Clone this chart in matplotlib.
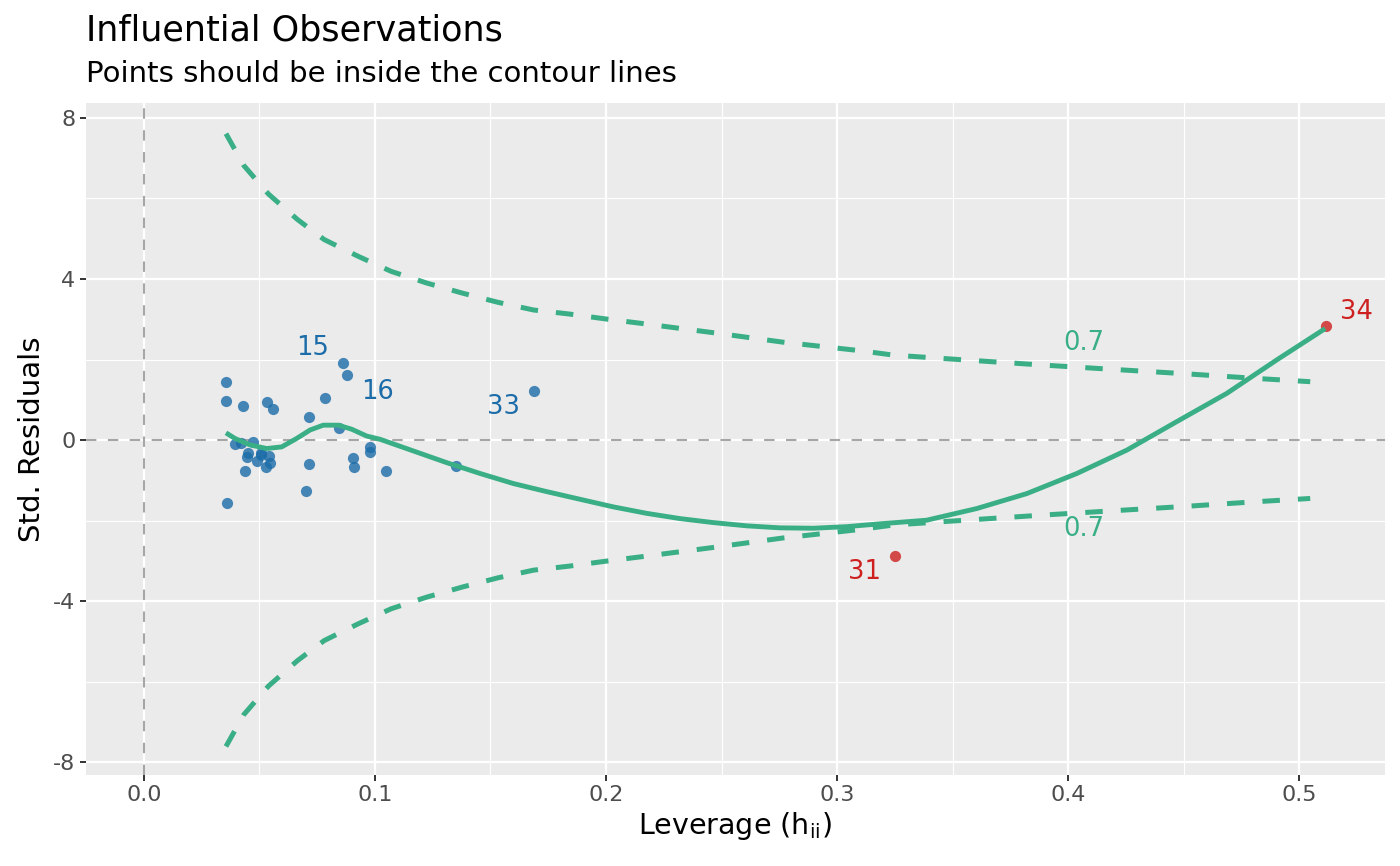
import numpy as np
import matplotlib
matplotlib.use("Agg")
from matplotlib import pyplot as plt

# observations (leverage, std. residual)
lev_ok = [0.0355, 0.0356, 0.043, 0.0532, 0.056, 0.0785, 0.0863, 0.0879, 0.0714, 0.0844,
          0.1688, 0.0393, 0.042, 0.0473, 0.0449, 0.0444, 0.0505, 0.0506, 0.0543, 0.049,
          0.0527, 0.0547, 0.0439, 0.0358, 0.0714, 0.070, 0.0906, 0.091, 0.0977, 0.0977,
          0.1049, 0.135]
res_ok = [1.43, 0.97, 0.84, 0.94, 0.78, 1.04, 1.92, 1.61, 0.58, 0.31,
          1.23, -0.10, -0.07, -0.06, -0.31, -0.42, -0.31, -0.36, -0.40, -0.52,
          -0.66, -0.58, -0.76, -1.57, -0.60, -1.27, -0.44, -0.68, -0.17, -0.29,
          -0.78, -0.65]
lev_bad = [0.3250, 0.5115]
res_bad = [-2.87, 2.83]

# labelled observations
lab_ok = ["15", "16", "33"]
lab_ok_x = [0.073, 0.1012, 0.1555]
lab_ok_y = [2.28, 1.19, 0.81]
lab_bad = ["31", "34"]
lab_bad_x = [0.3119, 0.525]
lab_bad_y = [-3.27, 3.19]

# loess smooth
smooth_x = [0.0355, 0.0394, 0.0459, 0.0531, 0.0596, 0.0661, 0.0719, 0.0776, 0.0841, 0.0899,
            0.0964, 0.1022, 0.1166, 0.131, 0.1455, 0.1599, 0.1743, 0.1887, 0.2032, 0.2176,
            0.232, 0.2465, 0.2609, 0.2753, 0.2897, 0.3042, 0.3186, 0.3388, 0.3605, 0.3821,
            0.4038, 0.4254, 0.4471, 0.4687, 0.4903, 0.5113]
smooth_y = [0.18, 0.04, -0.12, -0.21, -0.17, 0.04, 0.25, 0.37, 0.37, 0.27,
            0.10, 0.02, -0.27, -0.56, -0.83, -1.08, -1.28, -1.47, -1.66, -1.82,
            -1.95, -2.05, -2.13, -2.18, -2.19, -2.15, -2.08, -1.99, -1.70, -1.33,
            -0.83, -0.25, 0.46, 1.16, 1.99, 2.77]

# Cook's distance contour (0.7)
cook_x = [0.0355, 0.0432, 0.0539, 0.0664, 0.078, 0.0925, 0.107, 0.1224, 0.1378, 0.1533,
          0.1687, 0.1842, 0.1996, 0.215, 0.246, 0.2768, 0.31, 0.3244, 0.3554, 0.3872,
          0.4182, 0.4499, 0.4817, 0.5048]
cook_up = [7.61, 6.82, 6.11, 5.48, 4.98, 4.57, 4.19, 3.90, 3.65, 3.42,
           3.23, 3.13, 3.01, 2.90, 2.67, 2.43, 2.22, 2.11, 1.99, 1.87,
           1.76, 1.65, 1.53, 1.45]
cook_lo = [-7.61, -6.82, -6.11, -5.48, -4.98, -4.57, -4.19, -3.90, -3.65, -3.42,
           -3.23, -3.13, -3.01, -2.90, -2.67, -2.43, -2.22, -2.11, -1.99, -1.87,
           -1.76, -1.65, -1.53, -1.45]
cook_label = "0.7"
cook_label_x = 0.407
cook_label_y = [2.40, -2.22]

x_ticks = [0.0, 0.1, 0.2, 0.3, 0.4, 0.5]
y_ticks = [-8, -4, 0, 4, 8]

green = "#3aaf85"
blue = "#1b6ca8"
red = "#cd201f"

fig = plt.figure(figsize=(14, 8.66), dpi=100)
ax = fig.add_axes([0.0614, 0.105, 0.9276, 0.776])
ax.set_facecolor("#ebebeb")

ax.set_xlim(-0.0251, 0.537)
ax.set_ylim(-8.32, 8.37)

for v in np.arange(0.05, 0.55, 0.1):
    ax.axvline(v, color="white", lw=0.8, zorder=0)
for v in [-6, -2, 2, 6]:
    ax.axhline(v, color="white", lw=0.8, zorder=0)
for v in x_ticks:
    ax.axvline(v, color="white", lw=1.6, zorder=0)
for v in y_ticks:
    ax.axhline(v, color="white", lw=1.6, zorder=0)

ax.axhline(0, color="#a6a6a6", lw=1.5, ls=(0, (5, 5.5)), zorder=1)
ax.axvline(0, color="#a6a6a6", lw=1.5, ls=(0, (5, 5.5)), zorder=1)

ax.plot(cook_x, cook_up, color=green, lw=3.6, ls=(0, (3.5, 3.6)), zorder=2)
ax.plot(cook_x, cook_lo, color=green, lw=3.6, ls=(0, (3.5, 3.6)), zorder=2)
for yy in cook_label_y:
    ax.text(cook_label_x, yy, cook_label, color=green, fontsize=18.5,
            ha="center", va="center", zorder=5)

ax.scatter(lev_ok, res_ok, s=65, color=blue, alpha=0.8, lw=0, zorder=3)
ax.scatter(lev_bad, res_bad, s=65, color=red, alpha=0.8, lw=0, zorder=3)

ax.plot(smooth_x, smooth_y, color=green, lw=3.5, zorder=4,
        solid_joinstyle="round", solid_capstyle="butt")

for t, xx, yy in zip(lab_ok, lab_ok_x, lab_ok_y):
    ax.text(xx, yy, t, color=blue, fontsize=18.5, ha="center", va="center", zorder=5)
for t, xx, yy in zip(lab_bad, lab_bad_x, lab_bad_y):
    ax.text(xx, yy, t, color=red, fontsize=18.5, ha="center", va="center", zorder=5)

ax.set_xticks(x_ticks)
ax.set_xticklabels(["0.0", "0.1", "0.2", "0.3", "0.4", "0.5"])
ax.set_yticks(y_ticks)
ax.set_yticklabels(["-8", "-4", "0", "4", "8"])
ax.tick_params(axis="both", colors="#333333", length=4.5, width=1.4,
               labelsize=16, labelcolor="#4d4d4d", pad=3)
for s in ax.spines.values():
    s.set_visible(False)

ax.set_xlabel(r"Leverage (h$_{\mathregular{ii}}$)", fontsize=20.5, labelpad=3)
ax.set_ylabel("Std. Residuals", fontsize=21, labelpad=5)

fig.text(0.0614, 0.965, "Influential Observations", fontsize=25.2, ha="left", va="center")
fig.text(0.0614, 0.914, "Points should be inside the contour lines", fontsize=21,
         ha="left", va="center")

fig.savefig("out.png", dpi=100)
